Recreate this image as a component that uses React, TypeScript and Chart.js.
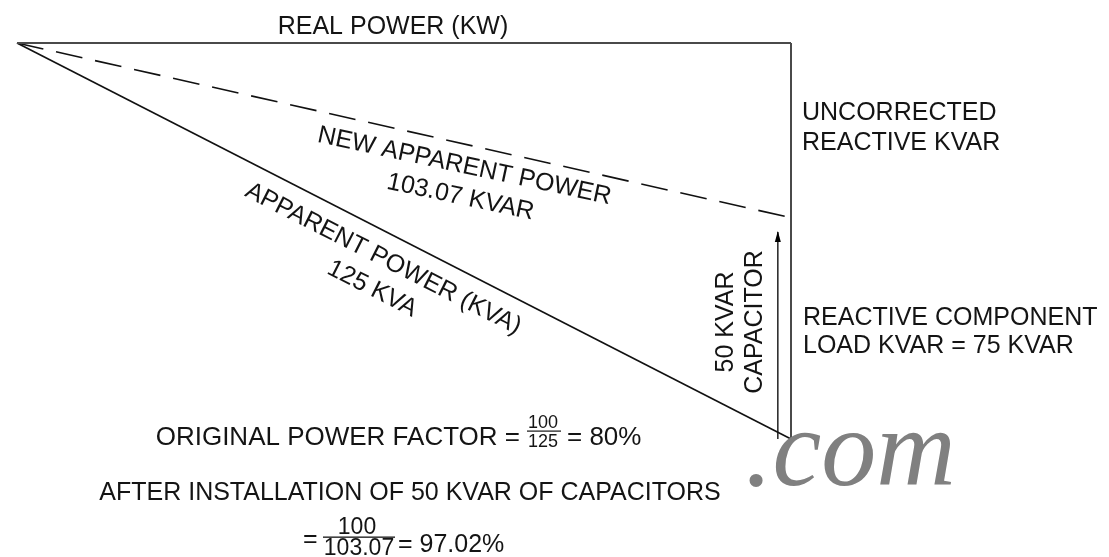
import { useEffect, useRef } from 'react';
import { Chart, registerables } from 'chart.js';

Chart.register(...registerables);

// Diagram geometry in data units (x: real power KW, y: reactive KVAR as drawn, y grows downward)
const realPowerX = [0, 100];
const realPowerY = [0, 0];
const uncorrectedX = [100, 100];
const uncorrectedY = [0, 75];
const apparentX = [0, 100];
const apparentY = [0, 75];
const newApparentX = [0, 100];
const newApparentY = [0, 33.1];
const capacitorX = [98.3, 98.3];
const capacitorY = [75, 35.8];

const FONT = '"Liberation Sans", Arial, Helvetica, sans-serif';

const pts = (xs: number[], ys: number[]) => xs.map((x, i) => ({ x, y: ys[i] }));

const textPlugin = {
  id: 'diagramText',
  afterDraw(chart: any) {
    const ctx: CanvasRenderingContext2D = chart.ctx;
    ctx.save();
    ctx.fillStyle = '#141414';
    const t = (s: string, x: number, y: number, align: CanvasTextAlign = 'left', size = 25) => {
      ctx.font = `${size}px ${FONT}`;
      ctx.textAlign = align;
      ctx.textBaseline = 'alphabetic';
      ctx.fillText(s, x, y);
    };
    const r = (s: string, x: number, y: number, deg: number, size = 25) => {
      ctx.save();
      ctx.translate(x, y);
      ctx.rotate((deg * Math.PI) / 180);
      ctx.font = `${size}px ${FONT}`;
      ctx.textAlign = 'center';
      ctx.textBaseline = 'alphabetic';
      ctx.fillText(s, 0, 0);
      ctx.restore();
    };
    t('REAL POWER (KW)', 393, 34, 'center');
    t('UNCORRECTED', 802, 120);
    t('REACTIVE KVAR', 802, 150);
    t('REACTIVE COMPONENT', 803, 325);
    t('LOAD KVAR = 75 KVAR', 803, 353);

    r('NEW APPARENT POWER', 463, 173, 12);
    r('103.07 KVAR', 459, 204, 12);
    r('APPARENT POWER (KVA)', 380, 265, 27);
    r('125 KVA', 369, 295, 27);
    r('50 KVAR', 733, 322, -90);
    r('CAPACITOR', 762, 322, -90);

    // formula 1
    t('ORIGINAL POWER FACTOR =', 520, 445, 'right', 26);
    t('100', 543, 428, 'center', 18);
    t('125', 543, 447, 'center', 18);
    ctx.fillRect(527, 430.5, 34, 1.2);
    t('= 80%', 567, 445, 'left', 26);

    t('AFTER INSTALLATION OF 50 KVAR OF CAPACITORS', 410, 500, 'center');
    t('=', 303, 547);
    t('100', 357, 534, 'center', 23);
    t('103.07', 359, 555, 'center', 23);
    ctx.fillRect(323, 536.5, 72, 1.3);
    t('= 97.02%', 398, 552);

    ctx.fillStyle = '#808080';
    ctx.font = `italic 110px "Liberation Serif", "Times New Roman", serif`;
    ctx.textAlign = 'left';
    ctx.fillText('.com', 745, 485);
    ctx.restore();
  },
  afterDatasetsDraw(chart: any) {
    // arrowhead at the top of the capacitor vector
    const meta = chart.getDatasetMeta(4);
    const p = meta.data[meta.data.length - 1];
    const ctx: CanvasRenderingContext2D = chart.ctx;
    ctx.save();
    ctx.fillStyle = '#000';
    ctx.beginPath();
    ctx.moveTo(p.x, p.y - 1);
    ctx.lineTo(p.x - 3, p.y + 10);
    ctx.lineTo(p.x + 3, p.y + 10);
    ctx.closePath();
    ctx.fill();
    ctx.restore();
  },
};

export default function App() {
  const ref = useRef<HTMLCanvasElement>(null);
  useEffect(() => {
    const base = { pointRadius: 0, showLine: true, fill: false, clip: false as any, tension: 0 };
    const chart = new Chart(ref.current!, {
      type: 'scatter',
      data: {
        datasets: [
          { ...base, label: 'Real power', data: pts(realPowerX, realPowerY), borderColor: '#4a4a4a', borderWidth: 2 },
          { ...base, label: 'Uncorrected reactive', data: pts(uncorrectedX, uncorrectedY), borderColor: '#4a4a4a', borderWidth: 2 },
          { ...base, label: 'Apparent power', data: pts(apparentX, apparentY), borderColor: '#111', borderWidth: 1.6 },
          { ...base, label: 'New apparent power', data: pts(newApparentX, newApparentY), borderColor: '#111', borderWidth: 1.6, borderDash: [27, 13] },
          { ...base, label: 'Capacitor', data: pts(capacitorX, capacitorY), borderColor: '#111', borderWidth: 1.4 },
        ],
      },
      options: {
        animation: false,
        responsive: false,
        layout: { padding: { left: 17, right: 318, top: 43, bottom: 118 } },
        plugins: { legend: { display: false }, tooltip: { enabled: false } },
        scales: {
          x: { type: 'linear', display: false, min: 0, max: 100 },
          y: { type: 'linear', display: false, min: 0, max: 75, reverse: true },
        },
      },
      plugins: [textPlugin],
    });
    return () => chart.destroy();
  }, []);
  return (
    <canvas
      ref={ref}
      width={1109}
      height={557}
      style={{ position: 'absolute', left: 0, top: 0, width: 1109, height: 557, display: 'block' }}
    />
  );
}
